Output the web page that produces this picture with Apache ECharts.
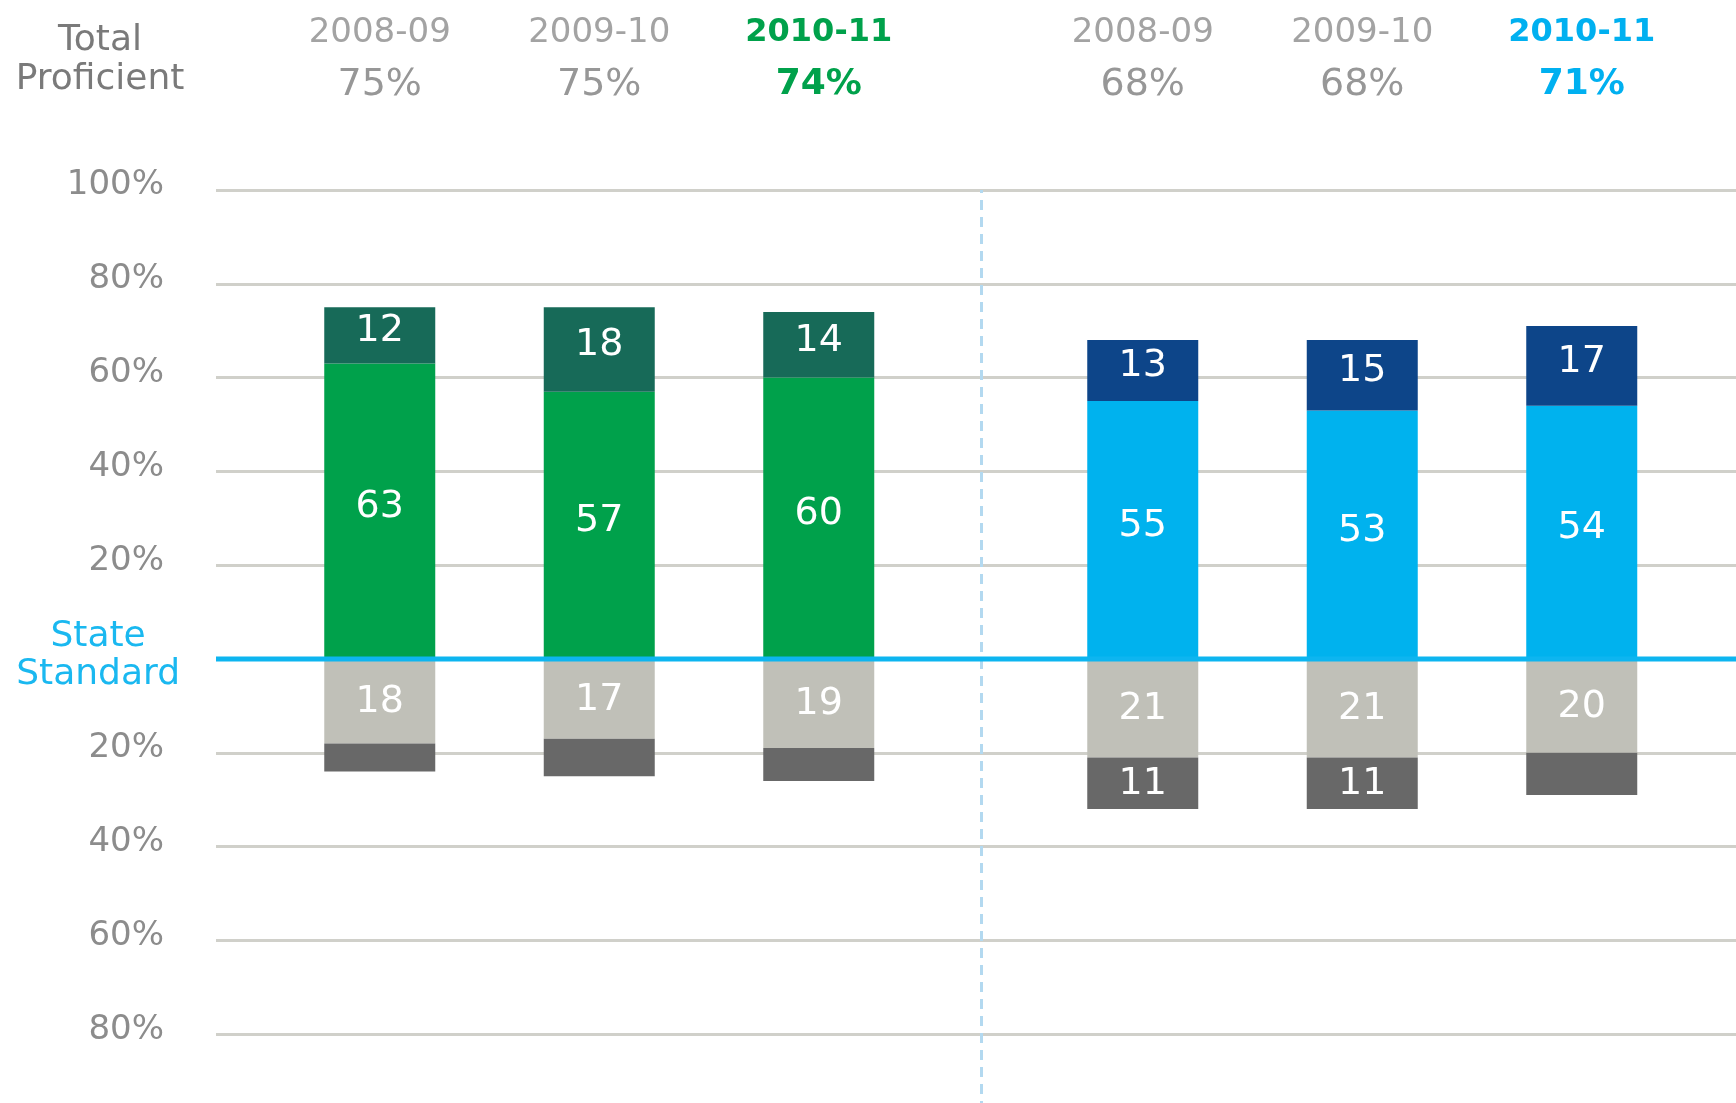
<!DOCTYPE html>
<html>
<head>
<meta charset="utf-8">
<script src="https://cdn.jsdelivr.net/npm/echarts@6/dist/echarts.min.js"></script>
<style>
html,body{margin:0;padding:0;background:#fff;}
#chart{width:1736px;height:1103px;}
</style>
</head>
<body>
<div id="chart"></div>
<script>
// ---- data ----
const years = ['2008-09', '2009-10', '2010-11'];
// left group (green)
const leftAdvanced   = [12, 18, 14];
const leftProficient = [63, 57, 60];
const leftBasic      = [18, 17, 19];
const leftBelowBasic = [6, 8, 7];
// right group (blue)
const rightAdvanced   = [13, 15, 17];
const rightProficient = [55, 53, 54];
const rightBasic      = [21, 21, 20];
const rightBelowBasic = [11, 11, 9];
// y axis
const yTicks = [100, 80, 60, 40, 20, 0, -20, -40, -60, -80];
const stateStandardLabel = ['State', 'Standard'];
const headerTitle = 'Total\nProficient';

const FONT = 'DejaVu Sans';
const C = {
  darkGreen: '#176a58', green: '#00a14b',
  darkBlue: '#0d4589', blue: '#00b2ee',
  lightGray: '#c0c0b8', darkGray: '#686868',
  grid: '#d0d0ca', axisText: '#8c8c8c', header: '#a3a3a3',
  stateLine: '#0db5f0', divider: '#b3d9f0'
};

const neg = a => a.map(v => -v);
const totals = (a, b) => a.map((v, i) => v + b[i]);

function headerFormatter(tot, accent) {
  return function (value, idx) {
    if (idx === years.length - 1) {
      return '{y' + accent + '|' + value + '}\n{p' + accent + '|' + tot[idx] + '%}';
    }
    return '{y|' + value + '}\n{p|' + tot[idx] + '%}';
  };
}

const headerRich = {
  y:  {fontFamily: FONT, fontSize: 34, color: C.header, lineHeight: 52},
  p:  {fontFamily: FONT, fontSize: 38, color: '#979797', lineHeight: 52},
  yG: {fontFamily: FONT, fontSize: 32, fontWeight: 'bold', color: C.green, lineHeight: 52},
  pG: {fontFamily: FONT, fontSize: 36, fontWeight: 'bold', color: C.green, lineHeight: 52},
  yB: {fontFamily: FONT, fontSize: 32, fontWeight: 'bold', color: '#00b0f0', lineHeight: 52},
  pB: {fontFamily: FONT, fontSize: 36, fontWeight: 'bold', color: '#00b0f0', lineHeight: 52}
};

function barLabel(dy) {
  return {
    show: true, position: 'inside', color: '#fff', fontFamily: FONT, fontSize: 38,
    offset: [0, dy],
    formatter: p => Math.abs(p.value) >= 10 ? String(Math.abs(p.value)) : ''
  };
}

function groupSeries(gi, adv, prof, basic, below, profColor, advColor) {
  const common = {type: 'bar', stack: 'g' + gi, xAxisIndex: gi, yAxisIndex: gi,
                  barWidth: 111, z: 2};
  return [
    Object.assign({name: 'Proficient', data: prof, itemStyle: {color: profColor}, label: barLabel(-4)}, common),
    Object.assign({name: 'Advanced', data: adv, itemStyle: {color: advColor}, label: barLabel(-4)}, common),
    Object.assign({name: 'Basic', data: neg(basic), itemStyle: {color: C.lightGray}, label: barLabel(1)}, common),
    Object.assign({name: 'Below Basic', data: neg(below), itemStyle: {color: C.darkGray}, label: barLabel(1)}, common)
  ];
}

const yRange = {min: -100, max: 100, interval: 20};

const option = {
  animation: false,
  backgroundColor: '#fff',
  title: {
    text: headerTitle, left: 100, top: 21, padding: 0, textAlign: 'center',
    textStyle: {fontFamily: FONT, fontSize: 36, fontWeight: 'normal', color: '#7a7a7a', lineHeight: 39}
  },
  grid: [
    {left: 216, width: 1530, top: 190, height: 938, outerBoundsMode: 'none', containLabel: false},
    {left: 270, width: 658.5, top: 190, height: 938, outerBoundsMode: 'none', containLabel: false},
    {left: 1033, width: 658.5, top: 190, height: 938, outerBoundsMode: 'none', containLabel: false}
  ],
  xAxis: [
    {gridIndex: 0, type: 'value', min: 0, max: 1, show: false},
    {gridIndex: 1, type: 'category', data: years, position: 'top',
     axisLine: {show: false}, axisTick: {show: false}, splitLine: {show: false},
     axisLabel: {interval: 0, margin: 79, formatter: headerFormatter(totals(leftAdvanced, leftProficient), 'G'), rich: headerRich}},
    {gridIndex: 2, type: 'category', data: years, position: 'top',
     axisLine: {show: false}, axisTick: {show: false}, splitLine: {show: false},
     axisLabel: {interval: 0, margin: 79, formatter: headerFormatter(totals(rightAdvanced, rightProficient), 'B'), rich: headerRich}}
  ],
  yAxis: [
    Object.assign({gridIndex: 0, type: 'value',
     axisLine: {show: false}, axisTick: {show: false},
     splitLine: {show: true, lineStyle: {color: C.grid, width: 3}},
     axisLabel: {
       margin: 36, align: 'right',
       formatter: v => v === 0
         ? stateStandardLabel.map(s => '{s|' + s + '}').join('\n')
         : (yTicks.indexOf(v) >= 0 ? '{n|' + Math.abs(v) + '%}' : ''),
       rich: {
         n: {fontFamily: FONT, fontSize: 34, color: C.axisText, padding: [0, 16, 9, 0]},
         s: {fontFamily: FONT, fontSize: 36, color: '#1ab8f0', lineHeight: 38, align: 'center', padding: [0, 0, 6, 0]}
       }
     }}, yRange),
    Object.assign({gridIndex: 1, type: 'value', show: false, splitLine: {show: false}}, yRange),
    Object.assign({gridIndex: 2, type: 'value', show: false, splitLine: {show: false}}, yRange)
  ],
  series: [
    ...groupSeries(1, leftAdvanced, leftProficient, leftBasic, leftBelowBasic, C.green, C.darkGreen),
    ...groupSeries(2, rightAdvanced, rightProficient, rightBasic, rightBelowBasic, C.blue, C.darkBlue),
    {
      name: 'State Standard', type: 'line', xAxisIndex: 0, yAxisIndex: 0, z: 10,
      data: [[0, 0], [1, 0]], symbol: 'none', silent: true,
      lineStyle: {color: C.stateLine, width: 5},
      markLine: {
        silent: true, symbol: 'none', label: {show: false},
        lineStyle: {color: C.divider, type: [10, 7], width: 3},
        data: [{xAxis: 0.5}]
      }
    }
  ]
};

const chart = echarts.init(document.getElementById('chart'), null, {renderer: 'canvas'});
chart.setOption(option);
</script>
</body>
</html>
